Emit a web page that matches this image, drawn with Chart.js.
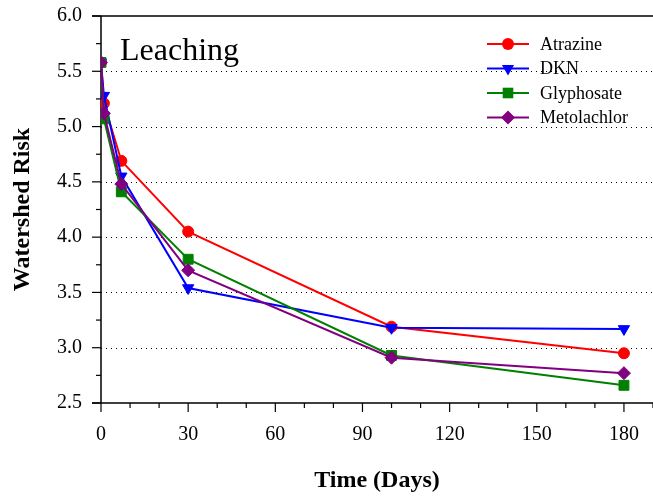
<!DOCTYPE html>
<html>
<head>
<meta charset="utf-8">
<script src="https://cdn.jsdelivr.net/npm/chart.js@4/dist/chart.umd.min.js"></script>
<style>
  html, body { margin: 0; padding: 0; background: #fff; }
  canvas { display: block; }
</style>
</head>
<body>
<canvas id="chart" width="653" height="498"></canvas>
<script>
const days = [0, 1, 7, 30, 100, 180];
const atrazine = [5.58, 5.21, 4.69, 4.05, 3.19, 2.95];
const dkn = [5.58, 5.28, 4.55, 3.54, 3.18, 3.17];
const glyphosate = [5.58, 5.07, 4.41, 3.80, 2.93, 2.66];
const metolachlor = [5.58, 5.12, 4.48, 3.70, 2.91, 2.77];
const xTicks = [0, 30, 60, 90, 120, 150, 180];
const yTicks = [2.5, 3.0, 3.5, 4.0, 4.5, 5.0, 5.5, 6.0];

const serif = '"Liberation Serif", "Times New Roman", serif';

function pts(values) {
    return days.map((d, i) => ({ x: d, y: values[i] }));
}

function series(label, values, color, style, radius, rotation, order) {
    return {
        label: label,
        data: pts(values),
        borderColor: color,
        backgroundColor: color,
        borderWidth: 2,
        pointStyle: style,
        pointRadius: radius,
        pointRotation: rotation,
        pointBorderWidth: 1,
        pointBorderColor: color,
        pointBackgroundColor: color,
        tension: 0,
        order: order
    };
}

const datasets = [
    series('Atrazine', atrazine, '#ff0000', 'circle', 5.5, 0, 4),
    series('DKN', dkn, '#0000ff', 'triangle', 6.5, 180, 3),
    series('Glyphosate', glyphosate, '#008000', 'rect', 7, 0, 2),
    series('Metolachlor', metolachlor, '#800080', 'rectRot', 6.5, 0, 1)
];

function marker(ctx, style, x, y, r) {
    ctx.beginPath();
    if (style === 'circle') {
        ctx.arc(x, y, r, 0, Math.PI * 2);
    } else if (style === 'triangle') {
        ctx.moveTo(x - r * 0.866, y - r * 0.5);
        ctx.lineTo(x + r * 0.866, y - r * 0.5);
        ctx.lineTo(x, y + r);
        ctx.closePath();
    } else if (style === 'rect') {
        const s = r * Math.SQRT1_2;
        ctx.rect(x - s, y - s, 2 * s, 2 * s);
    } else {
        ctx.moveTo(x, y - r);
        ctx.lineTo(x + r, y);
        ctx.lineTo(x, y + r);
        ctx.lineTo(x - r, y);
        ctx.closePath();
    }
    ctx.fill();
}

// no overflow padding, so the plot area lands where the reference has it
function noPad(s) {
    s.paddingTop = 0;
    s.paddingBottom = 0;
    s.paddingLeft = 0;
    s.paddingRight = 0;
}

const framePlugin = {
    id: 'frame',
    beforeDatasetsDraw(chart) {
        const ctx = chart.ctx;
        const a = chart.chartArea;
        const xs = chart.scales.x, ys = chart.scales.y;
        ctx.save();
        // dotted grid
        ctx.strokeStyle = '#000';
        ctx.lineWidth = 1;
        ctx.setLineDash([1, 4]);
        yTicks.filter(v => v > 2.5 && v < 6).forEach(v => {
            const y = Math.round(ys.getPixelForValue(v)) + 0.5;
            ctx.beginPath();
            ctx.moveTo(a.left, y);
            ctx.lineTo(a.right, y);
            ctx.stroke();
        });
        ctx.setLineDash([]);
        // axes
        ctx.lineWidth = 1.5;
        ctx.beginPath();
        ctx.moveTo(a.left, a.top);
        ctx.lineTo(a.left, a.bottom);
        ctx.moveTo(a.left - 9, a.bottom);
        ctx.lineTo(a.right, a.bottom);
        ctx.moveTo(a.left - 9, a.top);
        ctx.lineTo(a.right, a.top);
        ctx.stroke();
        // y ticks
        ctx.lineWidth = 1.2;
        for (let v = 2.5; v <= 6.001; v += 0.25) {
            const y = ys.getPixelForValue(v);
            const len = Math.abs(v * 2 - Math.round(v * 2)) < 0.01 ? 9 : 5;
            ctx.beginPath();
            ctx.moveTo(a.left - len, y);
            ctx.lineTo(a.left, y);
            ctx.stroke();
        }
        // x ticks
        for (let v = 0; v <= 190; v += 10) {
            const x = xs.getPixelForValue(v);
            const len = v % 30 === 0 ? 9 : 5;
            ctx.beginPath();
            ctx.moveTo(x, a.bottom);
            ctx.lineTo(x, a.bottom + len);
            ctx.stroke();
        }
        ctx.restore();
    },
    afterDraw(chart) {
        const ctx = chart.ctx;
        ctx.save();
        ctx.fillStyle = '#000';
        ctx.font = '32px ' + serif;
        ctx.textBaseline = 'alphabetic';
        ctx.textAlign = 'left';
        ctx.fillText('Leaching', 120, 60);

        ctx.font = '18px ' + serif;
        ctx.textBaseline = 'middle';
        datasets.forEach((ds, i) => {
            const y = 44 + i * 24.5;
            ctx.strokeStyle = ds.borderColor;
            ctx.fillStyle = ds.borderColor;
            ctx.lineWidth = 2;
            ctx.beginPath();
            ctx.moveTo(487, y);
            ctx.lineTo(529, y);
            ctx.stroke();
            marker(ctx, ds.pointStyle, 508, y, ds.pointRadius + 0.5);
            ctx.fillStyle = '#000';
            ctx.fillText(ds.label, 540, y + 1);
        });
        ctx.restore();
    }
};

new Chart(document.getElementById('chart'), {
    type: 'line',
    data: { datasets: datasets },
    options: {
        responsive: false,
        animation: false,
        layout: { autoPadding: false, padding: { top: 16, right: 0, left: 0, bottom: 0 } },
        plugins: { legend: { display: false }, tooltip: { enabled: false } },
        scales: {
            x: {
                type: 'linear',
                min: 0,
                max: 190,
                afterBuildTicks: s => { s.ticks = xTicks.map(v => ({ value: v })); },
                afterFit: s => { s.height = 95; noPad(s); },
                grid: { display: false, drawTicks: false },
                border: { display: false },
                ticks: { color: '#000', padding: 20, maxRotation: 0, font: { family: serif, size: 20 } },
                title: {
                    display: true,
                    text: 'Time (Days)',
                    color: '#000',
                    padding: { top: 3, bottom: 3 },
                    font: { family: serif, size: 24, weight: 'bold' }
                }
            },
            y: {
                type: 'linear',
                min: 2.5,
                max: 6.0,
                afterBuildTicks: s => { s.ticks = yTicks.map(v => ({ value: v })); },
                afterFit: s => { s.width = 101; noPad(s); },
                grid: { display: false, drawTicks: false },
                border: { display: false },
                ticks: {
                    color: '#000',
                    padding: 19,
                    font: { family: serif, size: 20 },
                    callback: v => v.toFixed(1)
                },
                title: {
                    display: true,
                    text: 'Watershed Risk',
                    color: '#000',
                    padding: { top: 8, bottom: 8 },
                    font: { family: serif, size: 24, weight: 'bold' }
                }
            }
        }
    },
    plugins: [framePlugin]
});
</script>
</body>
</html>
